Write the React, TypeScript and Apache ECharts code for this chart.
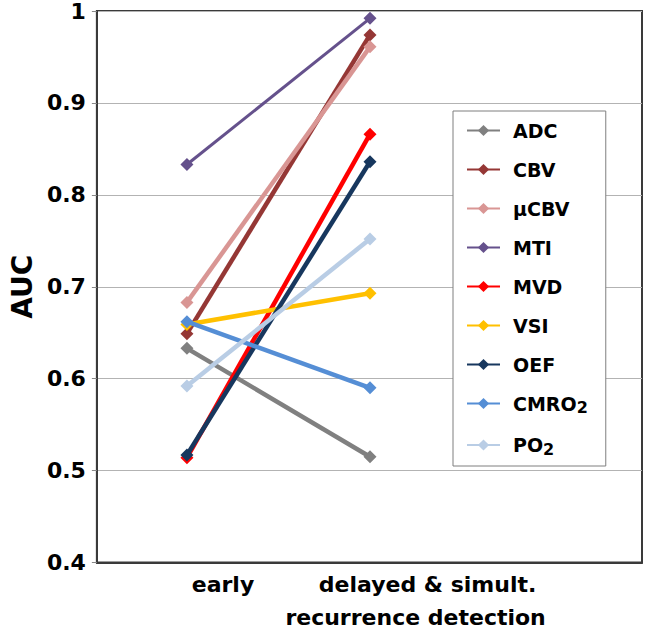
import React, { useEffect, useRef } from "react";
import * as echarts from "echarts";

const categories = ["early", "delayed & simult.\nrecurrence detection"];
const seriesNames = ["ADC", "CBV", "μCBV", "MTI", "MVD", "VSI", "OEF", "CMRO2", "PO2"];
const earlyAUC = [0.633, 0.649, 0.683, 0.833, 0.514, 0.659, 0.517, 0.662, 0.592];
const delayedAUC = [0.515, 0.974, 0.961, 0.992, 0.866, 0.693, 0.836, 0.59, 0.752];
const yMin = 0.4;
const yMax = 1;
const yStep = 0.1;

const colors = ["#808080", "#953735", "#D99694", "#65518C", "#FF0000", "#FFC000", "#17375E", "#558ED5", "#B9CDE5"];
const lineWidths = [4.5, 4.5, 4.5, 3, 4.5, 4.5, 4.5, 4.5, 4.5];
const FONT = "DejaVu Sans";
// label anchor positions on the x value axis (layout only)
const labelPos = [0.197, 1.249];

export default function App() {
  const ref = useRef<HTMLDivElement>(null);
  useEffect(() => {
    document.body.style.margin = "0";
    const chart = echarts.init(ref.current!, undefined, { renderer: "svg" });
    const series = seriesNames.map((name, i) => ({
      name,
      type: "line",
      data: [
        [0, earlyAUC[i]],
        [1, delayedAUC[i]],
      ],
      symbol: "diamond",
      symbolSize: 13,
      showSymbol: true,
      lineStyle: { color: colors[i], width: lineWidths[i] },
      itemStyle: { color: colors[i] },
      z: 2 + i,
    }));
    chart.setOption({
      animation: false,
      backgroundColor: "#fff",
      grid: {
        left: 91,
        top: 10,
        right: 3,
        bottom: 65,
        show: true,
        borderColor: "#3a3a3a",
        borderWidth: 2,
        backgroundColor: "transparent",
      },
      legend: {
        orient: "vertical",
        left: 453,
        top: 111,
        padding: [10, 18, 9, 13],
        itemWidth: 33,
        itemHeight: 14,
        itemGap: 20,
        backgroundColor: "#fff",
        borderColor: "#7f7f7f",
        borderWidth: 1,
        data: seriesNames,
        formatter: (n: string) => (n.endsWith("2") ? `${n.slice(0, -1)}{sub|2}` : n),
        textStyle: {
          fontFamily: FONT,
          fontWeight: "bold",
          fontSize: 19,
          color: "#000",
          padding: [0, 0, 0, 8],
          rich: {
            sub: { fontFamily: FONT, fontWeight: "bold", fontSize: 16, color: "#000", padding: [8, 0, 0, 0] },
          },
        },
      },
      xAxis: {
        type: "value",
        min: -0.492,
        max: 2.486,
        splitLine: { show: false },
        axisTick: { show: false },
        axisLine: { show: true, onZero: false, lineStyle: { color: "#3a3a3a", width: 2 } },
        axisLabel: {
          customValues: labelPos,
          margin: 5,
          fontFamily: FONT,
          fontWeight: "bold",
          fontSize: 22,
          color: "#000",
          formatter: (v: number) => {
            let idx = 0;
            let best = Infinity;
            labelPos.forEach((p, k) => {
              if (Math.abs(p - v) < best) {
                best = Math.abs(p - v);
                idx = k;
              }
            });
            const lines = categories[idx].split("\n");
            if (lines.length === 1) return `{l2|${lines[0]}}`;
            return `{l1|${lines[0]}}\n{l2|${lines[1]}}`;
          },
          rich: {
            l1: { fontFamily: FONT, fontWeight: "bold", fontSize: 22, color: "#000", lineHeight: 33, padding: [0, 0, 0, 24] },
            l2: { fontFamily: FONT, fontWeight: "bold", fontSize: 22, color: "#000", lineHeight: 33 },
          },
        },
      },
      yAxis: {
        type: "value",
        min: yMin,
        max: yMax,
        interval: yStep,
        name: "AUC",
        nameLocation: "middle",
        nameGap: 60,
        nameRotate: 90,
        nameTextStyle: { fontFamily: FONT, fontWeight: "bold", fontSize: 28, color: "#000" },
        axisLine: { show: true, onZero: false, lineStyle: { color: "#3a3a3a", width: 2 } },
        axisTick: { show: true, inside: false, length: 5, lineStyle: { color: "#888" } },
        splitLine: { show: true, lineStyle: { color: "#b3b3b3", width: 1 } },
        axisLabel: {
          margin: 11,
          fontFamily: FONT,
          fontWeight: "bold",
          fontSize: 22,
          color: "#000",
          formatter: (v: number) => String(parseFloat(v.toFixed(1))),
        },
      },
      series,
    });
    return () => chart.dispose();
  }, []);
  return <div ref={ref} style={{ width: 645, height: 628 }} />;
}
